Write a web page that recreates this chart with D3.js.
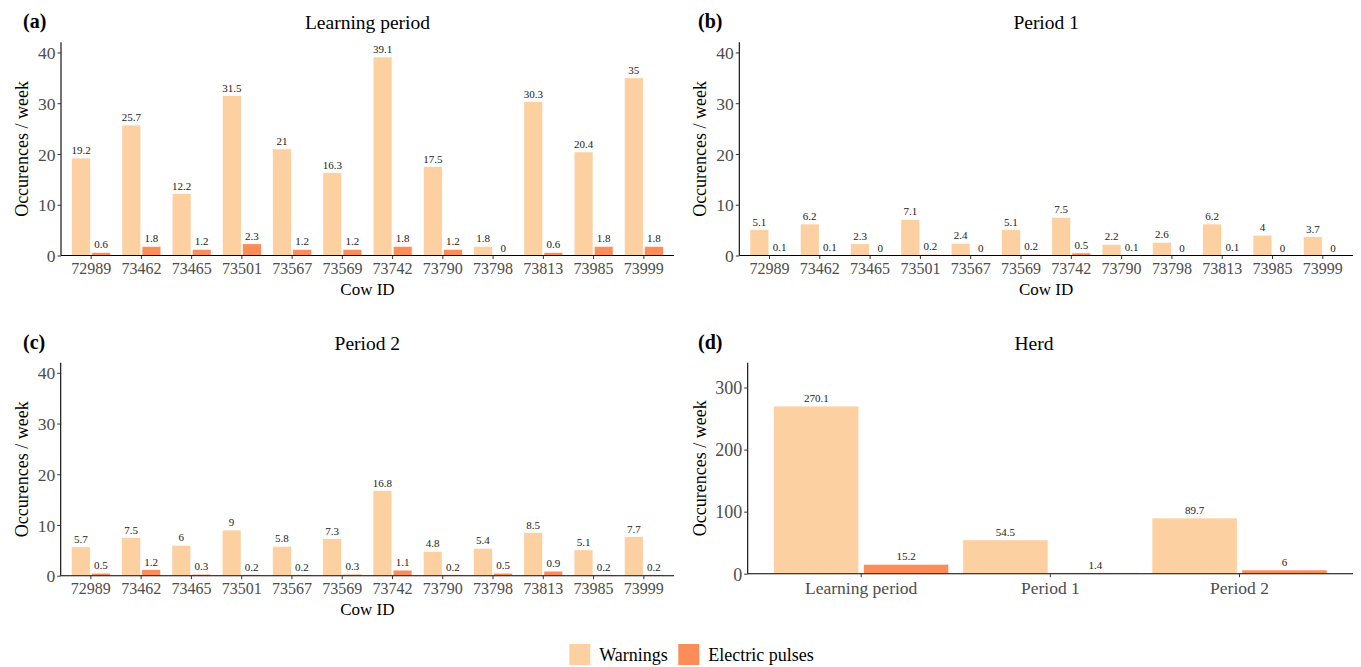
<!DOCTYPE html>
<html>
<head>
<meta charset="utf-8">
<script src="https://cdn.jsdelivr.net/npm/d3@7"></script>
<style>
  body { margin: 0; background: #fff; }
</style>
</head>
<body>
<svg id="chart" width="1361" height="667"></svg>
<script>
// ---- data ----
const cowIds = ["72989","73462","73465","73501","73567","73569","73742","73790","73798","73813","73985","73999"];
const learningWarnings = [19.2, 25.7, 12.2, 31.5, 21, 16.3, 39.1, 17.5, 1.8, 30.3, 20.4, 35];
const learningPulses   = [0.6, 1.8, 1.2, 2.3, 1.2, 1.2, 1.8, 1.2, 0, 0.6, 1.8, 1.8];
const period1Warnings  = [5.1, 6.2, 2.3, 7.1, 2.4, 5.1, 7.5, 2.2, 2.6, 6.2, 4, 3.7];
const period1Pulses    = [0.1, 0.1, 0, 0.2, 0, 0.2, 0.5, 0.1, 0, 0.1, 0, 0];
const period2Warnings  = [5.7, 7.5, 6, 9, 5.8, 7.3, 16.8, 4.8, 5.4, 8.5, 5.1, 7.7];
const period2Pulses    = [0.5, 1.2, 0.3, 0.2, 0.2, 0.3, 1.1, 0.2, 0.5, 0.9, 0.2, 0.2];
const herdPeriods  = ["Learning period", "Period 1", "Period 2"];
const herdWarnings = [270.1, 54.5, 89.7];
const herdPulses   = [15.2, 1.4, 6];
const cowTicks  = [0, 10, 20, 30, 40];
const herdTicks = [0, 100, 200, 300];
const seriesNames = ["Warnings", "Electric pulses"];
const colors = ["#FDD0A2", "#FC8D59"];

const FONT = "'Liberation Serif', 'Times New Roman', Times, serif";
const svg = d3.select("#chart");

function panel(cfg) {
  const g = svg.append("g");
  const x = d3.scaleBand().domain(cfg.cats).range([cfg.x0, cfg.x1]).paddingInner(0).paddingOuter(0.1);
  const y = d3.scaleLinear().domain([0, cfg.ymax]).range([cfg.y0, cfg.y1]);
  const step = x.step();
  const bw = cfg.width / 2 * step;
  const off = cfg.dodge / 4 * step;

  const rows = [];
  cfg.cats.forEach((c, i) => {
    rows.push({c, s: 0, v: cfg.w[i]});
    rows.push({c, s: 1, v: cfg.p[i]});
  });
  const cx = d => x(d.c) + step / 2 + (d.s === 0 ? -off : off);

  g.selectAll("rect.bar").data(rows).join("rect")
    .attr("class", "bar")
    .attr("x", d => cx(d) - bw / 2)
    .attr("width", bw)
    .attr("y", d => y(d.v))
    .attr("height", d => y(0) - y(d.v))
    .attr("fill", d => colors[d.s])
    .attr("stroke", "#fff")
    .attr("stroke-width", 0.6);

  g.selectAll("text.val").data(rows).join("text")
    .attr("class", "val")
    .attr("x", d => cx(d))
    .attr("y", d => y(d.v) - 4)
    .attr("text-anchor", "middle")
    .style("font-family", FONT)
    .style("font-size", cfg.valSize + "px")
    .attr("fill", "#1a1a1a")
    .text(d => String(d.v));

  // axes
  const yAxis = d3.axisLeft(y).tickValues(cfg.ticks).tickSize(3.5).tickPadding(2).tickFormat(d3.format("d"));
  const ya = g.append("g").attr("transform", `translate(${cfg.x0},0)`).call(yAxis);
  ya.select(".domain").attr("stroke", "#000").attr("stroke-width", 1.1)
    .attr("d", `M0,${cfg.y1}V${cfg.y0}`);
  ya.selectAll(".tick line").attr("stroke", "#333");
  ya.selectAll(".tick text").attr("fill", "#4d4d4d")
    .style("font-family", FONT).style("font-size", cfg.yTickSize + "px").attr("dy", "0.35em");

  const xAxis = d3.axisBottom(x).tickSize(3.5).tickPadding(2);
  const xa = g.append("g").attr("transform", `translate(0,${cfg.y0})`).call(xAxis);
  xa.select(".domain").attr("stroke", "#000").attr("stroke-width", 1.1)
    .attr("d", `M${cfg.x0},0H${cfg.x1}`);
  xa.selectAll(".tick line").attr("stroke", "#333");
  xa.selectAll(".tick text").attr("fill", "#4d4d4d")
    .style("font-family", FONT).style("font-size", cfg.xTickSize + "px")
    .attr("dy", null).attr("y", cfg.xTickBase);

  // titles
  g.append("text").attr("x", cfg.titleX != null ? cfg.titleX : (cfg.x0 + cfg.x1) / 2).attr("y", cfg.titleY)
    .attr("text-anchor", "middle").style("font-family", FONT).style("font-size", "19.5px")
    .attr("fill", "#000").text(cfg.title);
  g.append("text").attr("x", cfg.tagX).attr("y", cfg.titleY - 1)
    .style("font-family", FONT).style("font-size", "20px").style("font-weight", "bold")
    .attr("fill", "#000").text(cfg.tag);
  g.append("text")
    .attr("transform", `translate(${cfg.yTitleX},${(cfg.y0 + cfg.y1) / 2}) rotate(-90)`)
    .attr("text-anchor", "middle").style("font-family", FONT).style("font-size", "18px")
    .attr("fill", "#000").text("Occurences / week");
  if (cfg.xTitle) {
    g.append("text").attr("x", (cfg.x0 + cfg.x1) / 2).attr("y", cfg.xTitleY)
      .attr("text-anchor", "middle").style("font-family", FONT).style("font-size", "17px")
      .attr("fill", "#000").text(cfg.xTitle);
  }
}

const cowCommon = {cats: cowIds, ticks: cowTicks, ymax: 42, width: 0.75, dodge: 0.8,
  valSize: 11, yTickSize: 17.5, xTickSize: 16, xTickBase: 18, xTitle: "Cow ID"};

panel(Object.assign({}, cowCommon, {w: learningWarnings, p: learningPulses,
  x0: 61, x1: 674, y0: 255.5, y1: 42.3, title: "Learning period", tag: "(a)", tagX: 23,
  titleY: 29, yTitleX: 28, xTitleY: 295}));
panel(Object.assign({}, cowCommon, {w: period1Warnings, p: period1Pulses,
  x0: 739.3, x1: 1353, y0: 255.5, y1: 42.3, title: "Period 1", tag: "(b)", tagX: 698,
  titleY: 29, yTitleX: 706, xTitleY: 295}));
panel(Object.assign({}, cowCommon, {w: period2Warnings, p: period2Pulses,
  x0: 60.7, x1: 674, y0: 575.7, y1: 362.7, title: "Period 2", tag: "(c)", tagX: 23,
  titleY: 350, yTitleX: 28, xTitleY: 615}));
panel({cats: herdPeriods, ticks: herdTicks, ymax: 340, width: 0.9, dodge: 0.95,
  w: herdWarnings, p: herdPulses, valSize: 11, yTickSize: 18, xTickSize: 17.5, xTickBase: 20,
  x0: 747.7, x1: 1353, y0: 573.7, y1: 362.7, title: "Herd", titleX: 1034, tag: "(d)", tagX: 698,
  titleY: 350, yTitleX: 706, xTitle: null});

// legend
const leg = svg.append("g");
const legX = [569.3, 678.3];
seriesNames.forEach((n, i) => {
  leg.append("rect").attr("x", legX[i]).attr("y", 644).attr("width", 21).attr("height", 21).attr("fill", colors[i]);
  leg.append("text").attr("x", legX[i] + 30).attr("y", 660.5)
    .style("font-family", FONT).style("font-size", "18px").attr("fill", "#000").text(n);
});
</script>
</body>
</html>
